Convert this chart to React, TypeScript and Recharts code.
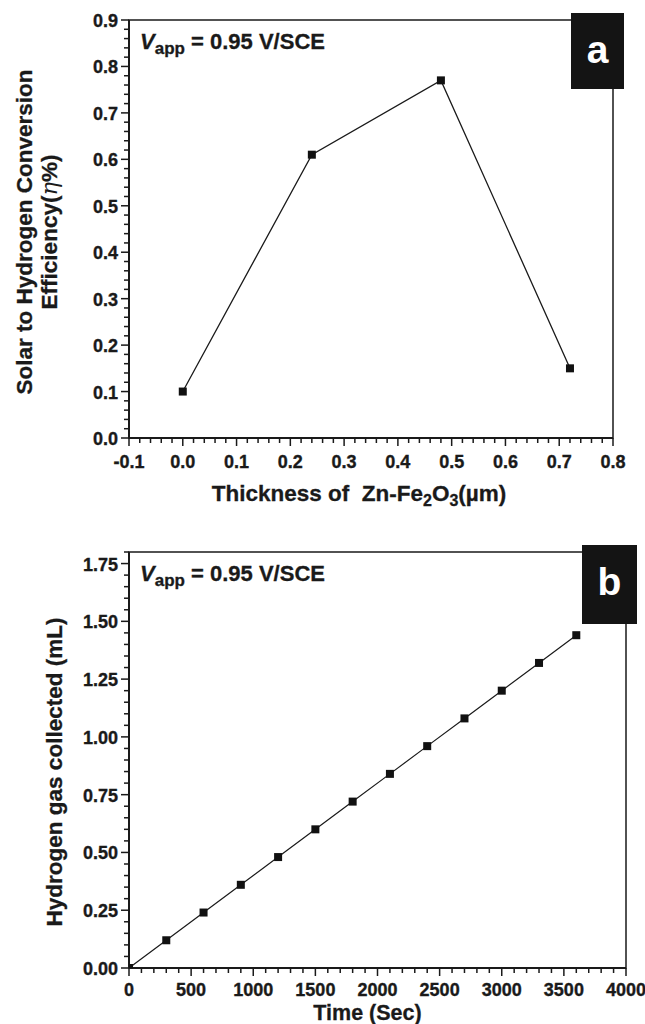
import { LineChart, Line, XAxis, YAxis, ReferenceArea, ReferenceDot, Label } from 'recharts'

// panel a
const thickness = [0, 0.24, 0.48, 0.72]
const efficiency = [0.1, 0.61, 0.77, 0.15]
const thicknessMajor = [-0.1, 0, 0.1, 0.2, 0.3, 0.4, 0.5, 0.6, 0.7, 0.8]
const efficiencyMajor = [0, 0.1, 0.2, 0.3, 0.4, 0.5, 0.6, 0.7, 0.8, 0.9]

// panel b
const time = [0, 300, 600, 900, 1200, 1500, 1800, 2100, 2400, 2700, 3000, 3300, 3600]
const gas = [0, 0.12, 0.24, 0.36, 0.48, 0.6, 0.72, 0.84, 0.96, 1.08, 1.2, 1.32, 1.44]
const timeMajor = [0, 500, 1000, 1500, 2000, 2500, 3000, 3500, 4000]
const gasMajor = [0, 0.25, 0.5, 0.75, 1.0, 1.25, 1.5, 1.75]

const FONT = '"Liberation Sans", Arial, Helvetica, sans-serif'
const INK = '#1a1a1a'
const TITLE = 22.5

// major ticks + 4 minor ticks between each pair
const withMinor = (major: number[], extra: number[] = []) => {
  const out: number[] = []
  for (let i = 0; i < major.length - 1; i++) {
    const step = (major[i + 1] - major[i]) / 5
    for (let k = 0; k < 5; k++) out.push(Math.round((major[i] + k * step) * 10000) / 10000)
  }
  out.push(major[major.length - 1])
  return out.concat(extra)
}

const isIn = (v: number, list: number[]) => list.some((m) => Math.abs(m - v) < 1e-6)

const tickText = {
  fontFamily: FONT,
  fontWeight: 'bold',
  fontSize: 18,
  fill: INK,
  stroke: INK,
  strokeWidth: 0.35,
}

const makeXTick = (major: number[], fmt: (v: number) => string, gap = 30) => (props: any) => {
  const { x, y, payload } = props
  const big = isIn(payload.value, major)
  return (
    <g>
      <line x1={x} x2={x} y1={y} y2={y + (big ? 8 : 5)} stroke={INK} strokeWidth={1.5} />
      {big && (
        <text x={x} y={y + gap} textAnchor="middle" {...tickText}>
          {fmt(payload.value)}
        </text>
      )}
    </g>
  )
}

const makeYTick = (major: number[], fmt: (v: number) => string) => (props: any) => {
  const { x, y, payload } = props
  const big = isIn(payload.value, major)
  return (
    <g>
      <line x1={x} x2={x - (big ? 8 : 5)} y1={y} y2={y} stroke={INK} strokeWidth={1.5} />
      {big && (
        <text x={x - 11} y={y + 7} textAnchor="end" {...tickText}>
          {fmt(payload.value)}
        </text>
      )}
    </g>
  )
}

const SquareDot = (props: any) => {
  const { cx, cy, index } = props
  if (cx == null || cy == null) return <g key={index} />
  // the marker at the origin is mostly hidden behind the axes
  if (props.payload && props.payload.x === 0 && props.payload.y === 0)
    return <rect key={index} x={cx} y={cy - 4} width={4} height={4} fill="#111" />
  return <rect key={index} x={cx - 4} y={cy - 4} width={8} height={8} fill="#111" />
}

const VappText = (props: any) => (
  <text x={props.cx + 11} y={props.cy + 29} fontFamily={FONT} fontWeight="bold" fontSize={22} fill={INK} stroke={INK} strokeWidth={0.3}>
    <tspan fontStyle="italic">V</tspan>
    <tspan fontSize={17} dy={5}>app</tspan>
    <tspan dy={-5}> = 0.95 V/SCE</tspan>
  </text>
)

const PanelTag = (letter: string, w: number, h: number) => (props: any) => (
  <g>
    <rect x={props.cx - w + 11} y={props.cy - 7} width={w} height={h} fill="#141414" />
    <text x={props.cx - w / 2 + 11} y={props.cy + 43} textAnchor="middle" fontFamily={FONT} fontWeight="bold" fontSize={39} fill="#fff">
      {letter}
    </text>
  </g>
)

const dataA = thickness.map((t, i) => ({ x: t, y: efficiency[i] }))
const dataB = time.map((t, i) => ({ x: t, y: gas[i] }))

export default function App() {
  return (
    <div style={{ position: 'absolute', left: 0, top: 0, width: 645, height: 1024, background: '#fff' }}>
      <LineChart width={645} height={510} data={dataA} margin={{ top: 20, right: 32, left: 69, bottom: 0 }}>
        <ReferenceArea x1={-0.1} x2={0.8} y1={0} y2={0.9} fill="none" stroke={INK} strokeWidth={1.5} ifOverflow="visible" />
        <XAxis
          dataKey="x"
          type="number"
          domain={[-0.1, 0.8]}
          ticks={withMinor(thicknessMajor)}
          interval={0}
          height={72}
          tickSize={0}
          tickMargin={0}
          tickLine={false}
          axisLine={{ stroke: INK, strokeWidth: 2 }}
          tick={makeXTick(thicknessMajor, (v) => v.toFixed(1))}
        >
          <Label
            content={(p: any) => {
              const vb = p.viewBox
              return (
                <text x={vb.x + vb.width / 2 - 12} y={vb.y + 63} textAnchor="middle" fontFamily={FONT} fontWeight="bold" fontSize={TITLE} fill={INK} stroke={INK} strokeWidth={0.3} style={{ whiteSpace: 'pre' }}>
                  {'Thickness of  Zn-Fe'}
                  <tspan fontSize={16} dy={5}>2</tspan>
                  <tspan dy={-5}>O</tspan>
                  <tspan fontSize={16} dy={5}>3</tspan>
                  <tspan dy={-5}>(µm)</tspan>
                </text>
              )
            }}
          />
        </XAxis>
        <YAxis
          type="number"
          domain={[0, 0.9]}
          ticks={withMinor(efficiencyMajor)}
          interval={0}
          width={60}
          tickSize={0}
          tickMargin={0}
          tickLine={false}
          axisLine={{ stroke: INK, strokeWidth: 2 }}
          tick={makeYTick(efficiencyMajor, (v) => v.toFixed(1))}
        >
          <Label
            content={(p: any) => {
              const vb = p.viewBox
              const cy = vb.y + vb.height / 2 + 3
              return (
                <g fontFamily={FONT} fontWeight="bold" fontSize={TITLE} fill={INK} stroke={INK} strokeWidth={0.3}>
                  <text transform={`translate(${vb.x - 37},${cy}) rotate(-90)`} textAnchor="middle">
                    Solar to Hydrogen Conversion
                  </text>
                  <text transform={`translate(${vb.x - 12},${cy}) rotate(-90)`} textAnchor="middle">
                    Efficiency(
                    <tspan fontStyle="italic" fontWeight="normal" strokeWidth={0} fontFamily='"DejaVu Serif", serif'>η</tspan>
                    %)
                  </text>
                </g>
              )
            }}
          />
        </YAxis>
        <Line dataKey="y" stroke={INK} strokeWidth={1.3} dot={SquareDot} isAnimationActive={false} />
        <ReferenceDot x={-0.1} y={0.9} r={0} ifOverflow="visible" shape={VappText} />
        <ReferenceDot x={0.8} y={0.9} r={0} ifOverflow="visible" shape={PanelTag('a', 53, 76)} />
      </LineChart>

      <LineChart width={645} height={514} data={dataB} margin={{ top: 42, right: 19, left: 69, bottom: 0 }}>
        <ReferenceArea x1={0} x2={4000} y1={0} y2={1.8} fill="none" stroke={INK} strokeWidth={1.5} ifOverflow="visible" />
        <XAxis
          dataKey="x"
          type="number"
          domain={[0, 4000]}
          ticks={withMinor(timeMajor)}
          interval={0}
          height={56}
          tickSize={0}
          tickMargin={0}
          tickLine={false}
          axisLine={{ stroke: INK, strokeWidth: 2 }}
          tick={makeXTick(timeMajor, (v) => String(Math.round(v)), 28)}
        >
          <Label
            content={(p: any) => {
              const vb = p.viewBox
              return (
                <text x={vb.x + vb.width / 2 - 10} y={vb.y + 52} textAnchor="middle" fontFamily={FONT} fontWeight="bold" fontSize={21.5} fill={INK} stroke={INK} strokeWidth={0.3}>
                  Time (Sec)
                </text>
              )
            }}
          />
        </XAxis>
        <YAxis
          type="number"
          domain={[0, 1.8]}
          ticks={withMinor(gasMajor, [1.8])}
          interval={0}
          width={60}
          tickSize={0}
          tickMargin={0}
          tickLine={false}
          axisLine={{ stroke: INK, strokeWidth: 2 }}
          tick={makeYTick(gasMajor, (v) => v.toFixed(2))}
        >
          <Label
            content={(p: any) => {
              const vb = p.viewBox
              const cy = vb.y + vb.height / 2 + 12
              return (
                <text transform={`translate(${vb.x - 7},${cy}) rotate(-90)`} textAnchor="middle" fontFamily={FONT} fontWeight="bold" fontSize={TITLE} fill={INK} stroke={INK} strokeWidth={0.3}>
                  Hydrogen gas collected (mL)
                </text>
              )
            }}
          />
        </YAxis>
        <Line dataKey="y" stroke={INK} strokeWidth={1.2} dot={SquareDot} isAnimationActive={false} />
        <ReferenceDot x={0} y={1.8} r={0} ifOverflow="visible" shape={VappText} />
        <ReferenceDot x={4000} y={1.8} r={0} ifOverflow="visible" shape={PanelTag('b', 55, 79)} />
      </LineChart>
    </div>
  )
}
